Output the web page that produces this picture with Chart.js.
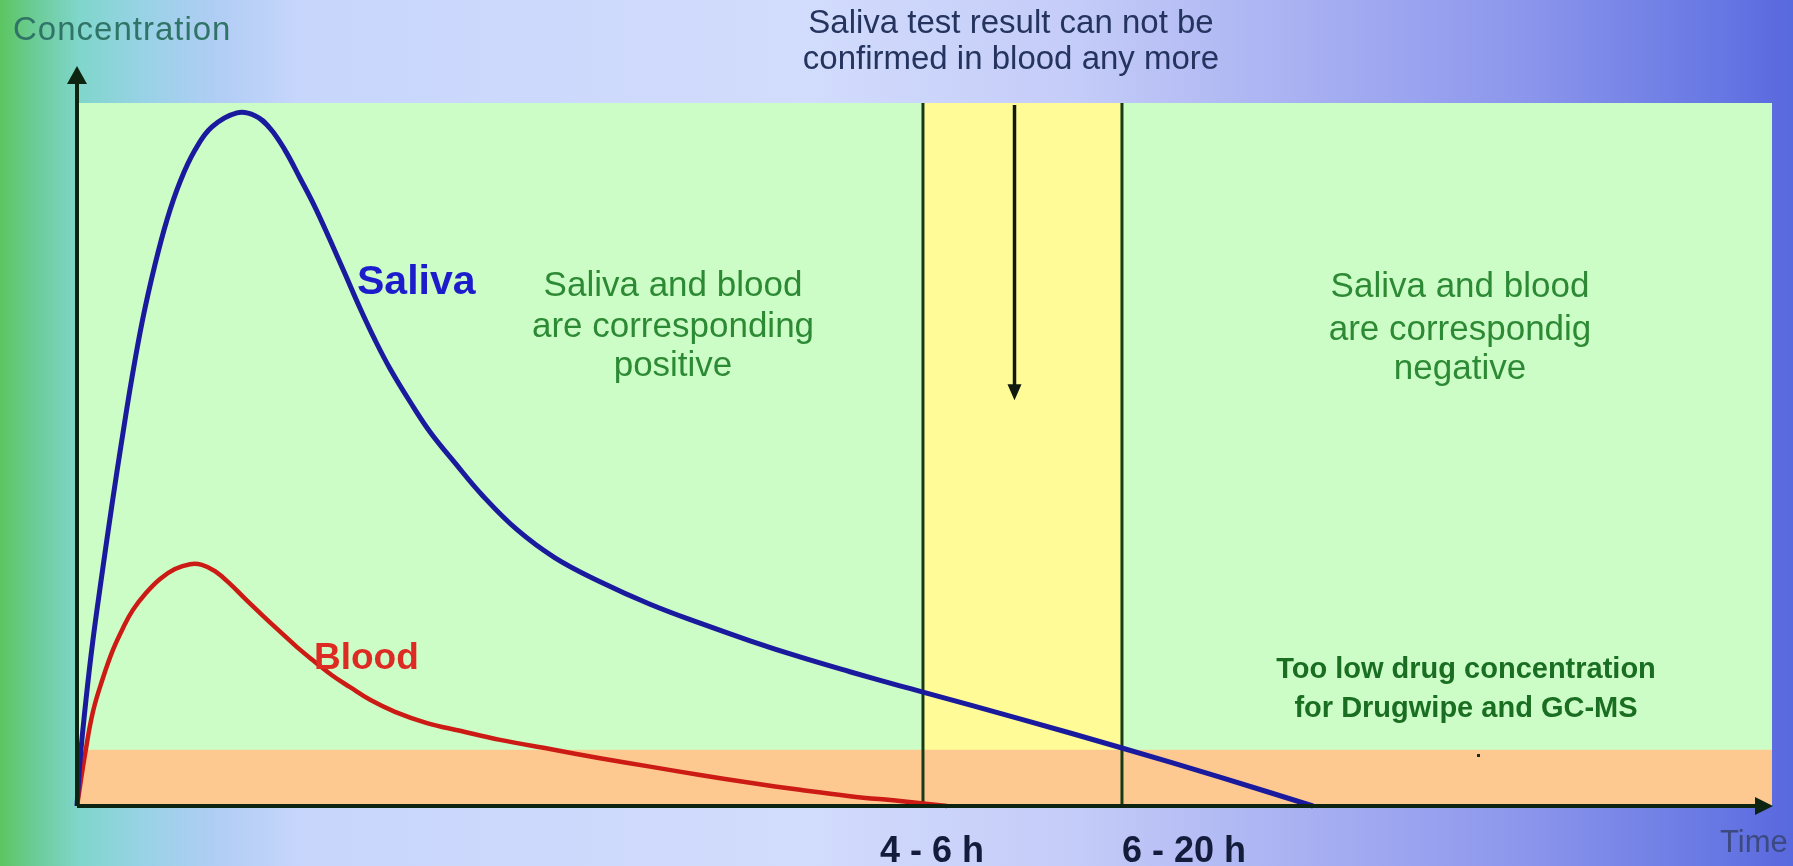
<!DOCTYPE html>
<html>
<head>
<meta charset="utf-8">
<title>Saliva and blood concentration over time</title>
<script src="https://cdn.jsdelivr.net/npm/chart.js@4.4.1/dist/chart.umd.min.js"></script>
<style>
  html, body { margin: 0; padding: 0; overflow: hidden; background: #d2dcfc; }
</style>
</head>
<body>
<canvas id="chart" width="1793" height="866"></canvas>
<script>
// curve samples (x = time, y = concentration, arbitrary units 0-100)
const salivaTime = [0, 0.18, 0.53, 0.94, 1.47, 2.06, 2.65, 3.24, 3.89, 4.6, 5.31, 6.08, 6.96, 7.96,
  9.44, 10.5, 11.39, 12.27, 13.16, 14.04, 14.93, 15.81, 16.7, 17.58, 18.47, 19.65, 20.83, 22.3,
  23.95, 25.96, 28.2, 30.86, 33.81, 36.76, 39.71, 42.65, 45.6, 48.55, 49.91, 55.63, 61.65, 67.43, 72.92];
const salivaConc = [0, 6.5, 15.1, 23.6, 32.9, 42.8, 52.1, 60.9, 69.4, 77.0, 83.4, 88.8, 93.3, 96.6,
  98.6, 98.2, 96.4, 93.3, 89.3, 85.2, 80.5, 75.7, 70.8, 66.3, 62.2, 57.5, 53.2, 48.8,
  44.1, 39.3, 35.3, 31.9, 28.7, 26.0, 23.5, 21.2, 19.1, 17.1, 16.2, 12.4, 8.25, 4.1, 0];

const bloodTime = [0, 0.47, 0.94, 1.53, 2.12, 2.71, 3.3, 4.07, 4.9, 5.78, 6.67, 7.37, 8.14, 9.03,
  9.91, 10.91, 11.98, 12.98, 14.04, 15.04, 16.11, 17.29, 18.76, 20.65, 22.6, 24.96, 27.91, 30.86,
  33.81, 36.76, 39.71, 42.65, 45.6, 48.55, 51.33];
const bloodConc = [0, 7.3, 13.4, 18.2, 22.2, 25.3, 27.9, 30.3, 32.3, 33.7, 34.4, 34.3, 33.4, 31.6,
  29.5, 27.2, 24.8, 22.6, 20.5, 18.6, 16.9, 15.1, 13.4, 11.8, 10.7, 9.4, 8.1, 6.8,
  5.6, 4.4, 3.3, 2.3, 1.4, 0.7, 0];

// time window where saliva is positive but blood is not
const windowStart = 49.91;
const windowEnd = 61.65;
const windowLabels = ['4 - 6 h', '6 - 20 h'];
// concentration below which neither test detects anything
const detectionLimit = 8;

const FONT = "'Liberation Sans', Arial, sans-serif";

function toPoints(xs, ys) {
  return xs.map((v, i) => ({ x: v, y: ys[i] }));
}

function label(ctx, str, x, y, font, color, align) {
  ctx.font = font;
  ctx.fillStyle = color;
  ctx.textAlign = align || 'center';
  ctx.textBaseline = 'middle';
  ctx.fillText(str, x, y);
}

const backdrop = {
  id: 'backdrop',
  beforeDraw(chart) {
    const { ctx, chartArea: a, scales: { x, y } } = chart;
    ctx.save();
    const g = ctx.createLinearGradient(0, 0, chart.width, 0);
    g.addColorStop(0, '#5cc660');
    g.addColorStop(0.02, '#6ccc98');
    g.addColorStop(0.045, '#80d6cc');
    g.addColorStop(0.08, '#98d2e6');
    g.addColorStop(0.12, '#b0cdf4');
    g.addColorStop(0.17, '#c8d6fc');
    g.addColorStop(0.45, '#d2dcfc');
    g.addColorStop(0.6, '#c4ccf8');
    g.addColorStop(0.72, '#aab2f2');
    g.addColorStop(0.85, '#8c96ec');
    g.addColorStop(0.95, '#6a7ae4');
    g.addColorStop(1, '#5868de');
    ctx.fillStyle = g;
    ctx.fillRect(0, 0, chart.width, chart.height);

    ctx.fillStyle = '#cdfdc6';
    ctx.fillRect(a.left, a.top, a.right - a.left, a.bottom - a.top);

    const x1 = x.getPixelForValue(windowStart);
    const x2 = x.getPixelForValue(windowEnd);
    ctx.fillStyle = '#fffb96';
    ctx.fillRect(x1, a.top, x2 - x1, a.bottom - a.top);

    const yb = y.getPixelForValue(detectionLimit);
    ctx.fillStyle = '#fdc990';
    ctx.fillRect(a.left, yb, a.right - a.left, a.bottom - yb);

    // window borders
    ctx.strokeStyle = '#173a17';
    ctx.lineWidth = 3;
    [x1, x2].forEach(px => {
      ctx.beginPath();
      ctx.moveTo(px, a.top);
      ctx.lineTo(px, a.bottom);
      ctx.stroke();
    });

    // arrow pointing into the window
    const xm = x1 + (x2 - x1) * 0.46;
    const ytip = y.getPixelForValue(57.7);
    ctx.strokeStyle = '#101a10';
    ctx.fillStyle = '#101a10';
    ctx.lineWidth = 3.5;
    ctx.beginPath();
    ctx.moveTo(xm, a.top + 2);
    ctx.lineTo(xm, ytip - 14);
    ctx.stroke();
    ctx.beginPath();
    ctx.moveTo(xm, ytip);
    ctx.lineTo(xm - 7, ytip - 16);
    ctx.lineTo(xm + 7, ytip - 16);
    ctx.closePath();
    ctx.fill();
    ctx.restore();
  },
  afterDatasetsDraw(chart) {
    const { ctx, chartArea: a, scales: { x } } = chart;
    ctx.save();
    // axes with arrow heads
    ctx.strokeStyle = '#0c2410';
    ctx.fillStyle = '#0c2410';
    ctx.lineWidth = 4;
    ctx.beginPath();
    ctx.moveTo(a.left, a.bottom);
    ctx.lineTo(a.left, 82);
    ctx.moveTo(a.left, a.bottom);
    ctx.lineTo(a.right - 14, a.bottom);
    ctx.stroke();
    ctx.beginPath();
    ctx.moveTo(a.left, 66);
    ctx.lineTo(a.left - 10, 84);
    ctx.lineTo(a.left + 10, 84);
    ctx.closePath();
    ctx.fill();
    ctx.beginPath();
    ctx.moveTo(a.right + 1, a.bottom);
    ctx.lineTo(a.right - 17, a.bottom - 9);
    ctx.lineTo(a.right - 17, a.bottom + 9);
    ctx.closePath();
    ctx.fill();

    ctx.letterSpacing = '1px';
    label(ctx, 'Concentration', 13, 31, '33px ' + FONT, '#2f7466', 'left');
    ctx.letterSpacing = '0px';
    label(ctx, 'Time', 1720, 843, '31px ' + FONT, '#3c4a80', 'left');

    label(ctx, 'Saliva test result can not be', 1011, 24, '33px ' + FONT, '#24345e');
    label(ctx, 'confirmed in blood any more', 1011, 60, '33px ' + FONT, '#24345e');

    label(ctx, 'Saliva', 357, 283, 'bold 41px ' + FONT, '#1c1ccc', 'left');
    label(ctx, 'Blood', 314, 659, 'bold 37px ' + FONT, '#dd2a22', 'left');

    const green = '#2d8a34';
    label(ctx, 'Saliva and blood', 673, 286, '35px ' + FONT, green);
    label(ctx, 'are corresponding', 673, 327, '35px ' + FONT, green);
    label(ctx, 'positive', 673, 366, '35px ' + FONT, green);
    label(ctx, 'Saliva and blood', 1460, 287, '35px ' + FONT, green);
    label(ctx, 'are correspondig', 1460, 330, '35px ' + FONT, green);
    label(ctx, 'negative', 1460, 369, '35px ' + FONT, green);

    label(ctx, 'Too low drug concentration', 1466, 670, 'bold 29px ' + FONT, '#1a6e22');
    label(ctx, 'for Drugwipe and GC-MS', 1466, 709, 'bold 29px ' + FONT, '#1a6e22');
    // small speck under the note
    ctx.fillStyle = '#1a2a1a';
    ctx.fillRect(1477, 754, 3, 3);

    label(ctx, windowLabels[0], x.getPixelForValue(windowStart) + 9, 852, 'bold 36px ' + FONT, '#141c3c');
    label(ctx, windowLabels[1], x.getPixelForValue(windowEnd) + 62, 852, 'bold 36px ' + FONT, '#141c3c');
    ctx.restore();
  }
};

new Chart(document.getElementById('chart'), {
  type: 'line',
  data: {
    datasets: [
      {
        label: 'Saliva',
        data: toPoints(salivaTime, salivaConc),
        borderColor: '#1a1a9e',
        borderWidth: 5,
        pointRadius: 0,
        tension: 0.4,
        clip: false
      },
      {
        label: 'Blood',
        data: toPoints(bloodTime, bloodConc),
        borderColor: '#cc1a14',
        borderWidth: 4.5,
        pointRadius: 0,
        tension: 0.4,
        clip: false
      }
    ]
  },
  options: {
    responsive: false,
    animation: false,
    devicePixelRatio: 1,
    layout: { padding: { left: 77, right: 21, top: 103, bottom: 60 } },
    plugins: { legend: { display: false }, tooltip: { enabled: false } },
    scales: {
      x: { type: 'linear', min: 0, max: 100, display: false },
      y: { min: 0, max: 100, display: false }
    }
  },
  plugins: [backdrop]
});
</script>
</body>
</html>
